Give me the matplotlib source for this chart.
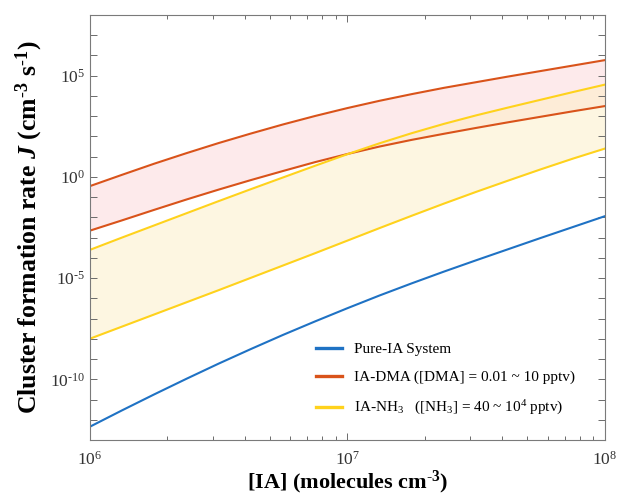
import numpy as np
import matplotlib
matplotlib.use("Agg")
import matplotlib.pyplot as plt
from matplotlib.ticker import FixedLocator, FuncFormatter, NullFormatter

plt.rcParams['font.family'] = ['Liberation Serif', 'DejaVu Serif']
plt.rcParams['mathtext.fontset'] = 'custom'
plt.rcParams['mathtext.rm'] = 'Liberation Serif'
plt.rcParams['mathtext.it'] = 'Liberation Serif:italic:bold'
plt.rcParams['mathtext.bf'] = 'Liberation Serif:bold'
plt.rcParams['axes.unicode_minus'] = False

# ---- data (log10 values) ----
log_ia = [6.0, 6.125, 6.25, 6.375, 6.5, 6.625, 6.75, 6.875, 7.0,
          7.125, 7.25, 7.375, 7.5, 7.625, 7.75, 7.875, 8.0]
pure_ia = [-12.35, -11.54, -10.75, -9.98, -9.23, -8.51, -7.81, -7.14, -6.49,
           -5.86, -5.26, -4.68, -4.12, -3.57, -3.02, -2.48, -1.94]
dma_high = [-0.46, 0.1, 0.65, 1.17, 1.67, 2.14, 2.59, 3.01, 3.4,
            3.76, 4.09, 4.4, 4.68, 4.96, 5.23, 5.5, 5.77]
dma_low = [-2.66, -2.15, -1.63, -1.12, -0.63, -0.16, 0.29, 0.73, 1.13,
           1.5, 1.83, 2.13, 2.42, 2.7, 2.97, 3.24, 3.5]
nh3_high = [-3.61, -3.0, -2.4, -1.8, -1.2, -0.61, -0.03, 0.55, 1.12,
            1.66, 2.16, 2.62, 3.04, 3.43, 3.81, 4.19, 4.56]
nh3_low = [-8.0, -7.4, -6.8, -6.2, -5.6, -4.99, -4.38, -3.77, -3.15,
           -2.53, -1.92, -1.32, -0.74, -0.18, 0.37, 0.9, 1.4]

labels = ['Pure-IA System',
          'IA-DMA ([DMA] = 0.01 ~ 10 pptv)',
          'IA-NH$_3$   ([NH$_3$] = 40 ~ 10$^4$ pptv)']

x = 10 ** np.array(log_ia)
c_blue = '#1f72c4'
c_red = '#d9531a'
c_yel = '#ffd21c'

fig = plt.figure(figsize=(6.18, 4.98), dpi=100)
ax = fig.add_axes([0.1451, 0.1165, 0.8338, 0.8534])

ax.fill_between(x, 10 ** np.array(dma_low), 10 ** np.array(dma_high),
                color='#fcd9dc', alpha=0.55, lw=0)
ax.fill_between(x, 10 ** np.array(nh3_low), 10 ** np.array(nh3_high),
                color='#fdeec4', alpha=0.5, lw=0)

l1, = ax.plot(x, 10 ** np.array(pure_ia), color=c_blue, lw=1.5)
l2, = ax.plot(x, 10 ** np.array(dma_high), color=c_red, lw=1.5)
ax.plot(x, 10 ** np.array(dma_low), color=c_red, lw=1.5)
l3, = ax.plot(x, 10 ** np.array(nh3_high), color=c_yel, lw=1.5)
ax.plot(x, 10 ** np.array(nh3_low), color=c_yel, lw=1.5)

ax.set_xscale('log')
ax.set_yscale('log')
ax.set_xlim(1e6, 1e8)
ax.set_ylim(1e-13, 1e8)

def pow_label(k):
    if k < 0:
        return r'$10^{\text{-}%d}$' % (-k)
    return r'$10^{%d}$' % k

ax.yaxis.set_major_locator(FixedLocator([10.0 ** k for k in range(-13, 9)]))
ax.yaxis.set_minor_locator(FixedLocator([]))
def yfmt(v, pos):
    k = int(round(np.log10(v)))
    if k % 5 == 0:
        return pow_label(k)
    return ''
ax.yaxis.set_major_formatter(FuncFormatter(yfmt))
ax.xaxis.set_major_locator(FixedLocator([1e6, 1e7, 1e8]))
ax.xaxis.set_minor_locator(FixedLocator([m * 10.0 ** e for e in (6, 7) for m in range(2, 10)]))
ax.xaxis.set_minor_formatter(NullFormatter())
ax.xaxis.set_major_formatter(FuncFormatter(lambda v, p: pow_label(int(round(np.log10(v))))))

ax.tick_params(which='both', direction='in', top=True, right=True,
               colors='#6b6b6b', labelcolor='#333333', labelsize=12.5)
ax.tick_params(which='major', length=5, width=0.7)
ax.tick_params(which='minor', length=3, width=0.7)
ax.tick_params(axis='x', pad=8)
for s in ax.spines.values():
    s.set_color('#7a7a7a')
    s.set_linewidth(0.8)

ax.set_ylabel(r'Cluster formation rate $J$ (cm$^{\mathbf{\text{-}3}}$ s$^{\mathbf{\text{-}1}}$)',
              fontsize=18.5, fontweight='bold', labelpad=3)
ax.set_xlabel(r'[IA] (molecules cm$^{\mathbf{\text{-}3}}$)', fontsize=16,
              fontweight='bold', labelpad=0)

leg = ax.legend([l1, l2, l3], labels, loc='upper left',
                bbox_to_anchor=(0.412, 0.262), frameon=False, fontsize=11,
                handlelength=1.75, labelspacing=0.95, handletextpad=0.75)
for h in leg.legend_handles:
    h.set_linewidth(2.4)

fig.savefig('out.png', dpi=100)
